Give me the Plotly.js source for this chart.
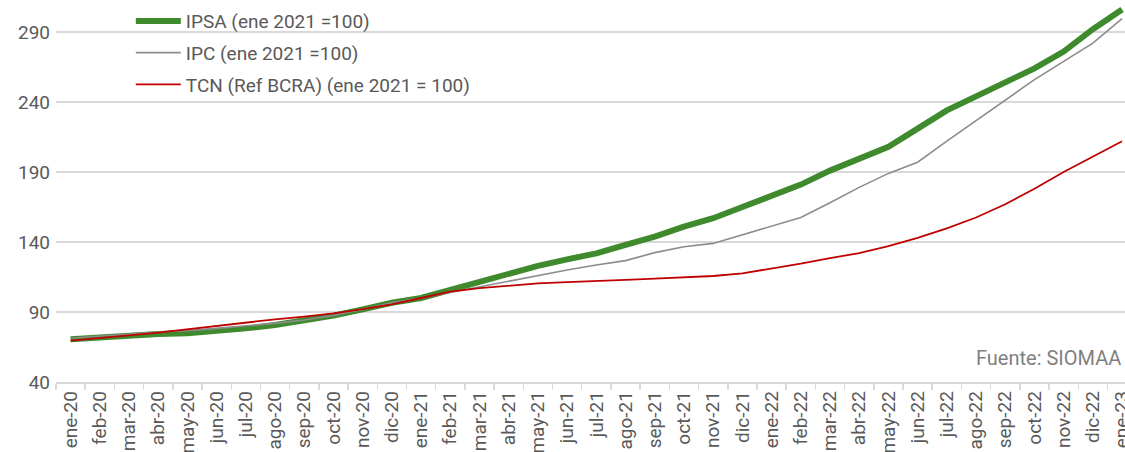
<!DOCTYPE html>
<html>
<head>
<meta charset="utf-8">
<script src="https://cdn.plot.ly/plotly-3.0.1.min.js"></script>
<style>html,body{margin:0;padding:0;background:#fff;overflow:hidden}#chart{width:1125px;height:452px}</style>
</head>
<body>
<div id="chart"></div>
<script>
const months = ["ene-20","feb-20","mar-20","abr-20","may-20","jun-20","jul-20","ago-20","sep-20","oct-20","nov-20","dic-20",
"ene-21","feb-21","mar-21","abr-21","may-21","jun-21","jul-21","ago-21","sep-21","oct-21","nov-21","dic-21",
"ene-22","feb-22","mar-22","abr-22","may-22","jun-22","jul-22","ago-22","sep-22","oct-22","nov-22","dic-22","ene-23"];

const ipsa = [70.5,71.9,73.3,74.3,74.8,76.2,78.3,80.7,83.6,87.4,91.9,96.6,
100,106,111.6,117.6,123,127.6,131.9,137.9,143.8,151,157,165,
172.5,181,191,199.8,208,221,234,244,253.5,264,276,292,306];

const ipc = [71.2,72.9,74.3,75.7,76.7,78.3,80,81.9,84.3,87.6,91.9,96.6,
100,104,108.3,112,116,120,123.6,126.7,132.4,136.6,139,145,
151.5,157.5,168,179,189,197,212,226.5,241,256,269,282,299.5];

const tcn = [69.5,71.6,73.3,75.2,77.6,80,82.9,84.8,86.7,89,92.1,95.5,
100,104.5,107,109,110.5,111.4,112.4,113,113.8,114.5,115.7,117.6,
121,124.5,128.5,132,137,143,149.8,157.5,167,178,190,201,212];

const yTicks = [40,90,140,190,240,290];

const FONT = "Roboto, 'Liberation Sans', Arial, sans-serif";
const txt = "#595959";

const traces = [
  {x: months, y: ipsa, type: "scatter", mode: "lines", name: "IPSA (ene 2021 =100)",
   legendgroup: "a", line: {color: "#3f8a2d", width: 6}},
  {x: months, y: ipc, type: "scatter", mode: "lines", name: "IPC (ene 2021 =100)",
   legendgroup: "b", line: {color: "#8c8c8c", width: 1.6}},
  {x: months, y: tcn, type: "scatter", mode: "lines", name: "TCN (Ref BCRA) (ene 2021 = 100)",
   legendgroup: "c", line: {color: "#c00000", width: 1.8}}
];

const layout = {
  width: 1125, height: 452,
  margin: {l: 56, r: 0, t: 4, b: 70},
  paper_bgcolor: "#ffffff", plot_bgcolor: "#ffffff",
  font: {family: FONT, color: txt, size: 19},
  showlegend: true,
  legend: {x: 0.07, y: 1.005, xanchor: "left", yanchor: "top",
    font: {family: FONT, size: 19, color: txt}, tracegroupgap: 4, itemwidth: 45,
    bgcolor: "rgba(0,0,0,0)", traceorder: "grouped"},
  xaxis: {type: "category", range: [-0.5, 36.1], showgrid: false, zeroline: false,
    showline: true, linecolor: "#d9d9d9", linewidth: 1.5,
    ticks: "outside", tickson: "boundaries", ticklen: 6, tickcolor: "#d9d9d9", tickwidth: 1.5,
    tickangle: -90, tickfont: {family: FONT, size: 19, color: txt}, automargin: false},
  yaxis: {range: [40, 310], tickvals: yTicks, ticktext: yTicks.map(String),
    showgrid: true, gridcolor: "#d9d9d9", gridwidth: 1.5, zeroline: false, showline: false,
    ticks: "", ticklabelstandoff: 5, tickfont: {family: FONT, size: 19, color: txt}, automargin: false},
  annotations: [{text: "Fuente: SIOMAA", xref: "paper", yref: "paper", x: 0.998, y: 0.0635,
    xanchor: "right", yanchor: "middle", showarrow: false,
    font: {family: FONT, size: 20, color: "#7f7f7f"}}]
};

Plotly.newPlot("chart", traces, layout, {displayModeBar: false, staticPlot: true});
</script>
</body>
</html>
